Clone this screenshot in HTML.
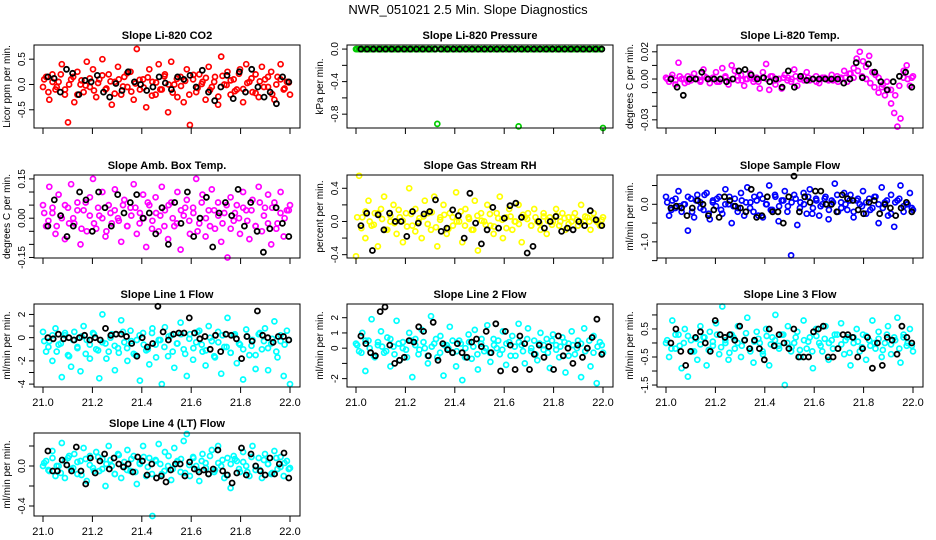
<!DOCTYPE html>
<html><head><meta charset="utf-8"><style>
html,body{margin:0;padding:0;background:#fff;}
svg{display:block;font-family:"Liberation Sans",sans-serif;}
</style></head><body>
<svg id="chart" width="936" height="540" viewBox="0 0 936 540">
<text x="468" y="14" text-anchor="middle" font-size="13">NWR_051021  2.5 Min. Slope Diagnostics</text>
</svg>
<script>
const xTicks=[21.0,21.2,21.4,21.6,21.8,22.0];
const xTickLabels=["21.0","21.2","21.4","21.6","21.8","22.0"];
const co2Vals=[-0.05,0.15,-0.3,0.2,-0.1,0.05,0.4,-0.2,-0.75,0.1,-0.35,0.25,0.0,-0.15,0.45,-0.05,0.3,-0.25,0.1,0.5,-0.1,0.2,-0.4,0.05,0.35,-0.2,0.15,-0.05,0.25,-0.3,0.7,-0.1,0.1,-0.45,0.3,0.05,-0.2,0.4,-0.1,0.2,-0.55,0.45,0.0,-0.25,0.15,-0.35,0.3,-0.8,0.1,-0.15,0.2,0.05,-0.3,0.35,-0.05,0.15,-0.4,0.55,0.0,0.25,-0.2,0.1,-0.1,0.3,-0.35,0.4,0.05,-0.15,0.2,-0.25,0.35,0.1,-0.05,0.25,-0.3,0.15,0.4,-0.1,0.05,-0.2];
const co2Bulk=[0.1,-0.15,0.05,-0.05,0.2,-0.1,0.0,0.15,-0.2,0.08,-0.02,0.12,-0.12,0.03,0.18,-0.08,0.06,-0.18,0.1,-0.04,0.22,-0.14,0.02,0.09,-0.06,0.14,-0.22,0.04,-0.1,0.16,0.0,-0.16,0.11,-0.03,0.07,-0.2,0.19,-0.07,0.01,0.13,-0.11,0.05,-0.24,0.17,-0.01,0.08,-0.13,0.21,-0.09,0.03,0.12,-0.17,0.06,-0.05,0.15,-0.19,0.0,0.1,-0.08,0.04];
const co2Black=[0.15,0.12,-0.15,0.3,0.22,-0.2,0.08,0.05,0.18,-0.15,-0.25,0.02,-0.12,0.25,0.05,0.0,-0.12,-0.05,0.15,0.03,-0.1,0.15,0.1,0.18,-0.05,0.28,-0.15,-0.32,-0.05,0.18,-0.28,0.25,-0.15,0.3,-0.05,-0.25,-0.15,-0.38,0.15,0.05];
const presVals=[0,0,0,0,0,0,0,0,0,0,0,0,0,0,0,0,0,0,0,0,0,0,0,0,0,0,-0.92,0,0,0,0,0,0,0,0,0,0,0,0,0,0,0,0,0,0,0,0,0,0,0,0,0,-0.95,0,0,0,0,0,0,0,0,0,0,0,0,0,0,0,0,0,0,0,0,0,0,0,0,0,0,-0.97];
const presBulk=[0,0,0,0,0,0,0,0,0,0,0,0,0,0,0,0,0,0,0,0,0,0,0,0,0,0,0,0,0,0,0,0,0,0,0,0,0,0,0,0,0,0,0,0,0,0,0,0,0,0,0,0,0,0,0,0,0,0,0,0];
const presBlack=[0,0,0,0,0,0,0,0,0,0,0,0,0,0,0,0,0,0,0,0,0,0,0,0,0,0,0,0,0,0,0,0,0,0,0,0,0,0,0,0];
const tempVals=[0.001,-0.002,0.003,-0.004,0.012,0.0,-0.003,0.002,-0.001,0.004,0.0,-0.002,0.007,0.001,-0.003,0.0,0.005,-0.002,0.008,0.002,-0.004,0.01,0.006,-0.001,0.003,-0.005,0.0,0.004,-0.002,0.001,-0.007,0.005,0.011,-0.008,0.002,-0.004,0.0,-0.007,0.003,0.001,-0.002,0.007,-0.005,0.0,0.002,0.005,-0.001,0.0,0.002,-0.003,0.001,0.0,-0.001,0.003,0.0,-0.002,0.001,0.006,-0.002,0.004,0.001,0.015,0.02,0.013,0.009,0.017,0.005,0.003,0.001,-0.006,-0.012,-0.008,-0.018,-0.025,-0.035,-0.029,0.006,0.01,-0.005,0.002];
const tempBulk=[0.0,0.001,-0.001,0.002,0.0,-0.002,0.001,0.0,-0.001,0.002,0.0,0.001,-0.002,0.0,0.001,-0.001,0.0,0.002,-0.001,0.0,0.001,0.0,-0.002,0.001,0.0,0.002,-0.001,0.0,0.001,-0.001,0.0,0.002,0.0,-0.001,0.001,0.0,-0.002,0.0,0.001,0.0,-0.001,0.002,0.0,0.001,0.004,0.008,0.006,0.002,0.0,-0.003,-0.006,-0.01,-0.004,-0.002,-0.008,-0.012,-0.005,0.001,0.0,0.001];
const tempBlack=[0.0,-0.006,-0.012,0.0,0.0,0.005,0.0,0.0,0.0,-0.002,0.0,0.006,0.007,0.003,0.0,0.001,-0.002,0.0,-0.006,0.006,-0.006,0.002,-0.001,0.0,0.0,0.0,0.0,0.0,-0.003,0.0,0.012,0.001,0.011,0.005,-0.002,-0.008,-0.002,0.002,0.005,-0.006];
const ambVals=[0.05,-0.03,0.12,0.02,-0.06,0.09,0.0,-0.08,0.04,0.13,-0.02,0.06,-0.1,0.03,-0.05,0.08,0.15,-0.04,0.01,0.1,-0.07,0.05,-0.02,0.11,0.0,-0.09,0.07,-0.03,0.04,0.13,-0.06,0.02,0.09,-0.11,0.05,-0.01,0.08,-0.05,0.12,0.03,-0.08,0.06,-0.03,0.1,-0.12,0.01,0.07,-0.06,0.04,0.15,-0.02,0.09,-0.07,0.03,0.11,-0.04,0.06,-0.09,0.02,-0.15,0.08,-0.01,0.05,-0.06,0.1,0.03,-0.08,0.07,-0.03,0.12,-0.05,0.04,0.09,-0.1,0.06,-0.02,0.1,-0.07,0.03,0.05];
const ambBulk=[0.02,-0.01,0.04,-0.03,0.01,0.05,-0.02,0.0,0.03,-0.04,0.06,0.01,-0.02,0.04,0.0,-0.05,0.02,0.03,-0.01,0.05,-0.03,0.01,0.04,-0.02,0.0,0.06,-0.04,0.02,0.01,-0.03,0.05,0.0,-0.02,0.03,0.04,-0.01,0.02,-0.05,0.06,0.0,-0.03,0.03,0.01,-0.02,0.05,-0.04,0.02,0.0,0.04,-0.01,0.03,-0.03,0.06,0.01,-0.02,0.04,-0.04,0.02,0.0,0.03];
const ambBlack=[-0.03,0.07,0.01,-0.07,-0.03,0.1,0.07,-0.05,0.1,0.04,-0.03,0.09,0.02,0.06,0.09,0.0,0.02,-0.06,0.04,-0.1,0.06,-0.02,0.1,-0.07,0.0,0.08,-0.11,0.02,0.06,0.01,0.11,-0.03,0.06,-0.05,-0.13,-0.04,0.04,-0.02,-0.07];
const rhVals=[-0.42,0.55,0.05,-0.2,0.25,-0.05,0.1,-0.3,0.15,0.3,-0.1,0.0,0.2,-0.15,0.05,-0.25,0.1,0.4,-0.05,0.15,0.0,-0.2,0.25,0.1,-0.1,0.3,-0.3,0.05,0.2,-0.15,0.1,-0.05,0.35,0.0,-0.25,0.15,0.05,-0.1,0.25,-0.35,0.1,0.0,0.2,-0.05,-0.15,0.1,0.3,-0.2,0.05,0.15,-0.1,0.0,0.2,-0.25,0.05,0.1,-0.05,0.15,0.0,-0.1,0.1,-0.15,0.05,0.0,0.15,-0.05,0.1,-0.1,0.05,0.0,0.1,-0.05,0.2,0.0,0.05,-0.1,0.1,0.0,-0.05,0.05];
const rhBulk=[0.05,-0.08,0.12,0.0,-0.04,0.1,0.03,-0.1,0.07,-0.02,0.14,0.01,-0.06,0.09,-0.12,0.04,0.06,-0.03,0.11,-0.07,0.02,0.08,-0.09,0.05,0.0,0.12,-0.05,0.03,-0.1,0.07,0.01,-0.04,0.09,-0.06,0.04,0.02,-0.08,0.06,0.0,-0.03,0.08,0.03,-0.05,0.05,-0.02,0.06,0.01,-0.04,0.07,0.0,0.04,-0.03,0.05,0.02,-0.02,0.06,0.0,0.03,-0.01,0.02];
const rhBlack=[-0.05,0.1,-0.35,0.08,-0.1,0.1,0.0,0.0,-0.18,0.12,-0.02,0.09,0.12,0.26,-0.12,-0.08,0.14,0.07,-0.2,0.34,-0.02,-0.27,-0.1,0.17,-0.08,0.04,0.19,0.22,0.05,-0.38,-0.3,0.0,-0.08,0.0,0.06,-0.12,-0.08,-0.1,0.0,-0.05,0.13,0.02,-0.05];
const flowVals=[0.2,-0.3,0.1,-0.1,0.35,-0.2,0.0,-0.7,0.15,-0.35,0.25,0.05,-0.15,0.3,-0.4,0.1,-0.05,0.2,-0.25,0.4,0.0,-0.5,0.15,-0.1,0.3,-0.3,0.45,0.05,-0.2,0.1,0.25,-0.35,0.0,0.5,-0.15,0.2,-0.45,0.1,0.35,-0.05,-1.36,0.25,-0.55,0.05,0.3,-0.25,0.4,-0.1,0.15,-0.3,0.0,0.2,-0.4,0.1,0.55,-0.2,0.05,0.3,-0.15,0.25,-0.35,0.1,0.0,0.35,-0.25,0.15,-0.1,0.2,-0.5,0.45,0.05,-0.3,0.25,-0.6,0.1,0.5,-0.2,0.0,0.3,-0.15];
const flowBulk=[0.05,-0.15,0.15,-0.05,0.0,0.2,-0.2,0.1,-0.1,0.25,-0.25,0.05,0.15,-0.15,0.0,0.2,-0.05,-0.2,0.1,0.05,-0.1,0.2,-0.3,0.15,0.0,-0.15,0.25,-0.05,0.1,-0.2,0.05,0.15,-0.1,0.0,0.2,-0.25,0.1,-0.05,0.15,-0.15,0.05,0.25,-0.1,0.0,0.1,-0.2,0.15,-0.05,0.05,-0.15,0.2,0.0,-0.1,0.1,-0.25,0.05,0.15,-0.05,0.0,-0.1];
const flowBlack=[-0.1,-0.05,-0.1,-0.3,-0.1,0.1,0.0,-0.3,-0.15,-0.35,0.2,0.1,-0.05,-0.1,-0.2,0.4,-0.35,-0.3,0.2,-0.2,-0.2,-0.5,0.2,0.75,-0.2,0.2,0.05,0.35,0.35,0.0,0.0,-0.2,0.25,0.15,0.1,-0.15,-0.25,0.05,0.1,-0.25,0.0,-0.1,-0.3,-0.1,0.05,-0.2];
const line1Vals=[0.5,-1.2,-0.3,-2.0,0.8,-0.6,-3.4,0.2,-1.5,-2.5,0.5,-0.8,-2.9,1.0,-0.2,-1.8,0.4,-1.0,-3.5,2.0,-0.5,-1.2,0.3,-2.8,-0.9,1.5,-0.4,-2.0,0.6,-1.4,-0.2,-3.7,0.4,-1.1,-2.3,0.8,-0.6,-0.2,-4.0,0.9,-1.6,0.2,-2.6,-0.5,1.3,-1.0,-3.3,0.3,-1.9,-0.4,0.6,-1.2,-2.4,1.0,-0.3,-1.7,0.5,-3.1,-0.8,1.7,-1.3,0.2,-2.2,-0.6,-3.6,0.7,-1.5,-0.2,-2.7,0.3,-1.0,0.8,-2.8,-0.5,1.4,-1.7,-0.3,-3.3,0.6,-4.0];
const line1Bulk=[-0.3,-0.8,0.2,-1.2,-0.5,0.4,-1.6,-0.2,-0.9,0.1,-1.4,-0.6,0.3,-1.1,-0.4,-1.8,0.0,-0.7,-1.3,0.5,-0.9,-0.3,-1.5,0.2,-0.6,-1.0,0.4,-1.7,-0.2,-0.8,0.1,-1.2,-0.5,0.3,-1.4,-0.1,-0.9,0.5,-0.6,-1.1,0.0,-1.6,-0.4,0.2,-0.8,-1.3,0.3,-0.5,-1.0,0.1,-0.7,-1.5,0.4,-0.3,-0.9,-0.1,-1.2,0.2,-0.6,-0.2];
const line1Black=[0,-0.1,0.3,-0.1,0.0,-0.2,0.0,0.2,-0.2,0.0,-0.2,0.8,0.2,0.3,0.3,0.1,-0.5,-1.6,0.0,-0.8,-0.5,2.7,0.5,-0.2,0.3,0.4,0.4,1.7,0.4,-0.1,0.1,-1.0,0.2,-1.2,0.3,0.2,-0.1,-1.8,0.1,-0.3,2.3,0.2,0.0,-0.4,0.1,0.1,-0.2];
const line2Vals=[0.3,-0.2,1.0,-1.5,0.5,1.9,-0.6,0.2,1.1,-0.3,0.7,-1.2,0.1,1.8,-0.8,0.4,-0.1,1.0,-1.9,0.6,-0.4,1.2,0.0,-1.0,2.1,0.3,-0.6,0.8,-1.8,0.2,1.4,-0.3,-1.2,0.5,-2.1,0.0,0.9,-0.7,1.2,-1.4,0.3,-0.2,1.5,-0.9,0.6,0.0,-0.4,1.1,-1.1,0.4,0.8,-0.5,1.6,0.2,-1.0,1.3,-0.2,0.5,-0.8,1.0,-0.1,0.6,-1.3,0.9,0.2,-0.6,0.7,-1.6,0.3,1.1,-0.4,0.5,-1.9,1.3,0.0,-1.2,0.8,-2.3,0.4,-0.3];
const line2Bulk=[0.2,-0.3,0.5,0.0,-0.5,0.4,0.1,-0.2,0.6,-0.4,0.3,0.0,-0.6,0.5,0.2,-0.1,0.4,-0.5,0.1,0.6,-0.3,0.2,0.0,0.5,-0.2,0.3,-0.6,0.4,0.1,-0.4,0.6,0.0,-0.3,0.2,0.5,-0.1,0.3,-0.5,0.1,0.4,-0.2,0.6,0.0,-0.4,0.3,0.2,-0.3,0.5,-0.1,0.1,0.4,-0.5,0.2,0.0,0.3,-0.2,0.5,-0.3,0.1,0.2];
const line2Black=[0.8,0.3,-0.3,-0.5,2.4,2.7,0.2,-1.0,-0.8,-0.6,0.5,0.4,1.4,1.1,-0.5,1.7,-0.8,0.3,-0.1,-0.3,0.3,-0.3,-0.6,0.4,0.6,0.1,1.1,-0.3,1.6,-1.5,1.1,0.2,-1.4,0.8,0.3,-1.4,-0.4,0.2,-0.6,0.1,-1.4,0.8,-0.5,0.0,-1.0,0.2,-0.6,0.0,0.7,1.9,-0.4];
const line3Vals=[0.0,-0.5,0.8,-0.2,0.3,-0.9,0.5,-1.2,0.1,-0.3,-0.6,0.6,0.2,-0.8,0.4,-0.1,0.7,-0.4,1.3,0.0,-0.6,0.3,-0.2,0.6,-0.5,0.1,0.9,-0.3,-0.7,0.4,0.0,-0.4,0.5,-0.8,0.2,1.0,-0.1,0.3,-1.5,0.6,-0.3,0.0,0.4,-0.5,0.8,-0.2,0.2,-0.9,0.5,0.0,-0.3,0.6,-0.6,0.1,0.3,-0.2,0.7,-0.4,0.2,-0.8,0.0,0.5,-0.3,0.3,-0.6,0.1,0.8,-0.2,0.4,-0.5,0.0,0.6,-0.4,0.2,0.9,-0.7,0.3,-0.1,0.5,-0.3];
const line3Bulk=[0.1,-0.2,0.3,-0.1,0.0,0.25,-0.3,0.15,-0.05,0.2,-0.25,0.05,0.3,-0.15,0.1,-0.35,0.2,0.0,-0.1,0.35,-0.2,0.05,0.15,-0.3,0.25,-0.05,0.1,-0.2,0.3,0.0,-0.15,0.2,-0.25,0.1,0.05,-0.3,0.25,-0.1,0.15,0.0,-0.2,0.3,-0.05,0.1,-0.35,0.2,0.05,-0.15,0.25,-0.1,0.0,0.15,-0.25,0.3,-0.05,0.1,-0.2,0.2,0.0,-0.1];
const line3Black=[0.0,0.5,-0.3,-0.8,-0.3,0.2,0.4,0.0,-0.3,0.8,0.3,0.2,0.3,0.1,0.6,0.1,-0.2,0.1,-0.2,-0.6,0.5,-0.1,0.3,0.0,-0.2,0.5,-0.5,-0.5,-0.5,0.4,0.5,0.6,-0.5,-0.5,-0.2,0.3,0.3,0.2,-0.5,-0.2,0.2,-0.9,0.0,-0.8,0.2,0.1,-0.4,0.6,0.2,0.0];
const line4Vals=[0.0,0.05,-0.05,0.15,-0.1,0.0,0.23,-0.12,0.08,-0.03,0.12,-0.08,0.05,0.18,-0.15,0.1,-0.02,0.14,-0.05,0.07,-0.2,0.2,0.0,-0.08,0.12,-0.12,0.04,0.16,-0.05,0.1,-0.18,0.02,0.2,-0.1,0.08,-0.5,0.06,0.22,-0.08,0.14,0.0,-0.14,0.18,0.05,-0.06,0.25,0.32,-0.1,0.09,0.0,-0.15,0.12,0.03,-0.08,0.16,-0.04,0.2,0.0,-0.12,0.08,-0.22,0.1,0.05,-0.06,0.14,0.0,-0.1,0.2,-0.04,0.08,-0.12,0.12,0.02,-0.08,0.15,-0.03,0.09,-0.1,0.05,-0.02];
const line4Bulk=[0.03,-0.04,0.08,0.0,-0.07,0.05,0.1,-0.02,0.04,-0.09,0.07,0.01,-0.05,0.09,-0.03,0.02,0.06,-0.08,0.11,0.0,-0.04,0.07,-0.06,0.03,0.09,-0.01,-0.08,0.05,0.02,-0.05,0.1,-0.03,0.04,0.07,-0.07,0.01,0.08,-0.04,0.05,-0.02,0.1,-0.06,0.03,0.06,-0.09,0.02,0.07,-0.03,0.04,-0.06,0.09,0.0,-0.04,0.06,0.02,-0.07,0.08,-0.01,0.03,-0.03];
const line4Black=[0.15,-0.05,-0.05,0.06,0.01,-0.05,0.19,-0.05,-0.18,0.08,-0.07,0.05,0.12,-0.03,0.08,0.02,-0.01,0.02,-0.06,0.09,0.05,-0.09,0.02,-0.12,-0.1,-0.16,-0.04,0.02,0.02,-0.1,0.04,-0.03,-0.06,-0.04,-0.08,-0.03,0.16,-0.05,-0.09,-0.17,-0.07,0.18,-0.09,0.12,0.0,-0.05,-0.09,0.08,-0.08,0.02,0.13,-0.12];

const panels=[
 {name:"co2",title:"Slope Li-820 CO2",ylab:"Licor ppm per min.",col:0,row:0,ymin:-0.86,ymax:0.78,ticks:[-0.5,0,0.5],labels:["-0.5","0.0","0.5"],color:"#ff0000",vals:co2Vals,bulk:co2Bulk,black:co2Black},
 {name:"pressure",title:"Slope Li-820 Pressure",ylab:"kPa per min.",col:1,row:0,ymin:-0.97,ymax:0.05,ticks:[-0.8,-0.6,-0.4,-0.2,0],labels:["-0.8","","-0.4","","0.0"],color:"#00cc00",vals:presVals,bulk:presBulk,black:presBlack},
 {name:"temp",title:"Slope Li-820 Temp.",ylab:"degrees C per min.",col:2,row:0,ymin:-0.036,ymax:0.025,ticks:[-0.03,-0.02,-0.01,0,0.01,0.02],labels:["-0.03","","","0.00","","0.02"],color:"#ff00ff",vals:tempVals,bulk:tempBulk,black:tempBlack},
 {name:"amb-box-temp",title:"Slope Amb. Box Temp.",ylab:"degrees C per min.",col:0,row:1,ymin:-0.152,ymax:0.165,ticks:[-0.15,-0.1,-0.05,0,0.05,0.1,0.15],labels:["-0.15","","","0.00","","","0.15"],color:"#ff00ff",vals:ambVals,bulk:ambBulk,black:ambBlack},
 {name:"gas-stream-rh",title:"Slope Gas Stream RH",ylab:"percent per min.",col:1,row:1,ymin:-0.44,ymax:0.56,ticks:[-0.4,-0.2,0,0.2,0.4],labels:["-0.4","","0.0","","0.4"],color:"#ffff00",vals:rhVals,bulk:rhBulk,black:rhBlack},
 {name:"sample-flow",title:"Slope Sample Flow",ylab:"ml/min per min.",col:2,row:1,ymin:-1.43,ymax:0.78,ticks:[-1.5,-1,-0.5,0,0.5],labels:["","-1.0","","0.0",""],color:"#0000ff",vals:flowVals,bulk:flowBulk,black:flowBlack},
 {name:"line1-flow",title:"Slope Line 1 Flow",ylab:"ml/min per min.",col:0,row:2,ymin:-4.25,ymax:2.9,ticks:[-4,-3,-2,-1,0,1,2],labels:["-4","","-2","","0","","2"],color:"#00ffff",vals:line1Vals,bulk:line1Bulk,black:line1Black},
 {name:"line2-flow",title:"Slope Line 2 Flow",ylab:"ml/min per min.",col:1,row:2,ymin:-2.55,ymax:2.9,ticks:[-2,-1,0,1,2],labels:["-2","","0","1","2"],color:"#00ffff",vals:line2Vals,bulk:line2Bulk,black:line2Black},
 {name:"line3-flow",title:"Slope Line 3 Flow",ylab:"ml/min per min.",col:2,row:2,ymin:-1.57,ymax:1.39,ticks:[-1.5,-1,-0.5,0,0.5,1],labels:["-1.5","","-0.5","","0.5",""],color:"#00ffff",vals:line3Vals,bulk:line3Bulk,black:line3Black},
 {name:"line4-flow",title:"Slope Line 4 (LT) Flow",ylab:"ml/min per min.",col:0,row:3,ymin:-0.5,ymax:0.33,ticks:[-0.4,-0.2,0,0.2],labels:["-0.4","","0.0",""],color:"#00ffff",vals:line4Vals,bulk:line4Bulk,black:line4Black}
];
const colLeft=[34,347,657], rowTop=[45,175,304,433], W=266, H=83;
const NS="http://www.w3.org/2000/svg";
const svg=document.getElementById('chart');
function mk(tag,attrs,parent){const e=document.createElementNS(NS,tag);for(const k in attrs)e.setAttribute(k,attrs[k]);parent.appendChild(e);return e;}
panels.forEach(p=>{
  const L=colLeft[p.col],T=rowTop[p.row];
  const xs=v=>L+9+(v-21)*247;
  const ys=v=>T+H-(v-p.ymin)/(p.ymax-p.ymin)*H;
  const g=mk('g',{},svg);
  
  
  const t=mk('text',{x:L+W/2,y:T-6,'text-anchor':'middle','font-size':'11','font-weight':'bold'},g);
  t.textContent=p.title;
  
  
  const pts=mk('g',{fill:'none'},g);
  
  
  const n=p.vals.length;
  p.vals.forEach((v,i)=>{
    const c=mk('circle',{cx:xs(21+i/(n-1)).toFixed(1),cy:ys(v).toFixed(1),r:2.5,stroke:p.color,'stroke-width':1.7},pts);
    
    
  });
  const nb=p.bulk.length;
  p.bulk.forEach((v,i)=>{
    const c=mk('circle',{cx:xs(21.005+0.99*i/(nb-1)).toFixed(1),cy:ys(v).toFixed(1),r:2.5,stroke:p.color,'stroke-width':1.7},pts);
    
    
  });
  const m=p.black.length;
  p.black.forEach((v,i)=>{
    const c=mk('circle',{cx:xs(21.02+0.975*i/(m-1)).toFixed(1),cy:ys(v).toFixed(1),r:2.5,stroke:'#000','stroke-width':1.8},pts);
    
    
  });
  const box=mk('rect',{x:L,y:T,width:W,height:H,fill:'none',stroke:'#000','stroke-width':1},g);
  
  
  const xa=mk('g',{stroke:'#000','stroke-width':1},g);
  
  
  mk('line',{x1:xs(21),x2:xs(22),y1:T+H,y2:T+H},xa);
  xTicks.forEach((v,i)=>{
    mk('line',{x1:xs(v),x2:xs(v),y1:T+H,y2:T+H+6},xa);
    if(p.row>=2){
      const tl=mk('text',{x:xs(v),y:T+H+19,'text-anchor':'middle','font-size':'11',stroke:'none',fill:'#000'},xa);
      tl.textContent=xTickLabels[i];
      
      
    }
  });
  const ya=mk('g',{stroke:'#000','stroke-width':1},g);
  
  
  mk('line',{x1:L,x2:L,y1:ys(p.ticks[0]),y2:ys(p.ticks[p.ticks.length-1])},ya);
  p.ticks.forEach((v,i)=>{
    mk('line',{x1:L-5,x2:L,y1:ys(v),y2:ys(v)},ya);
    if(p.labels[i]){
      const tl=mk('text',{x:0,y:0,transform:`translate(${L-9},${ys(v)}) rotate(-90)`,'text-anchor':'middle','font-size':'10',stroke:'none',fill:'#000'},ya);
      tl.textContent=p.labels[i];
      
      
    }
  });
  const yl=mk('text',{x:0,y:0,transform:`translate(${L-24},${T+H/2}) rotate(-90)`,'text-anchor':'middle','font-size':'10'},g);
  yl.textContent=p.ylab;
  
  
});
</script>
</body></html>
